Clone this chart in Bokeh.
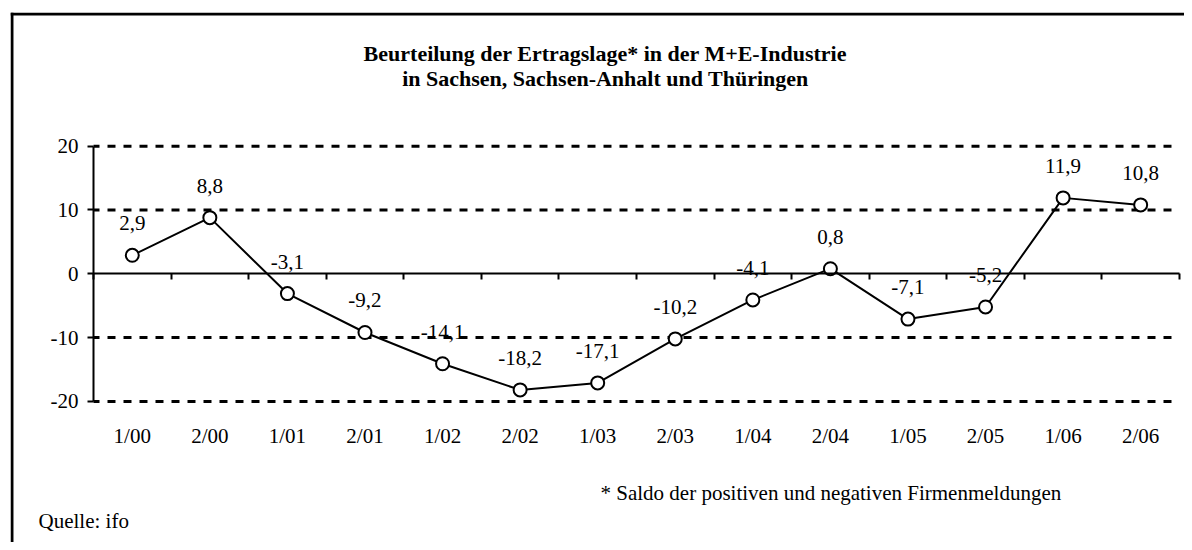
from bokeh.plotting import figure
from bokeh.models import Range1d, FixedTicker, LinearAxis, Label, Span
from bokeh.embed import file_html
from bokeh.resources import INLINE
from bokeh.core.properties import value

# ---- data ----
categories = ["1/00", "2/00", "1/01", "2/01", "1/02", "2/02", "1/03",
              "2/03", "1/04", "2/04", "1/05", "2/05", "1/06", "2/06"]
values = [2.9, 8.8, -3.1, -9.2, -14.1, -18.2, -17.1,
          -10.2, -4.1, 0.8, -7.1, -5.2, 11.9, 10.8]
y_ticks = [-20, -10, 0, 10, 20]
grid_ticks = [-20, -10, 10, 20]
title_lines = ["Beurteilung der Ertragslage* in der M+E-Industrie",
               "in Sachsen, Sachsen-Anhalt und Thüringen"]
footnote = "* Saldo der positiven und negativen Firmenmeldungen"
source_note = "Quelle: ifo"

FONT = "Liberation Serif"
FS = "21px"

n = len(categories)
xs = list(range(n))
labels = [f"{v:.1f}".replace(".", ",") for v in values]
boundaries = [i - 0.5 for i in range(n + 1)]
x_lo, x_hi = -0.5, n - 0.5
y_lo, y_hi = min(y_ticks), max(y_ticks)

p = figure(width=1184, height=542, output_backend="svg", toolbar_location=None,
           x_range=Range1d(-1.570, 13.565), y_range=Range1d(-42.116, 40.956),
           x_axis_location=None, y_axis_location=None,
           min_border_left=10, min_border_top=12,
           min_border_right=0, min_border_bottom=0)
p.outline_line_color = None
p.background_fill_color = "white"
p.border_fill_color = "white"
p.xgrid.visible = False
p.ygrid.visible = False

# chart-area border (left and top edges; right/bottom lie outside the window)
p.add_layout(Span(location=-1.551, dimension="height", line_color="black", line_width=3))
p.add_layout(Span(location=40.737, dimension="width", line_color="black", line_width=3))

# dashed horizontal grid lines across the plot area
p.segment(x0=[x_lo] * len(grid_ticks), x1=[x_hi] * len(grid_ticks),
          y0=grid_ticks, y1=grid_ticks, line_color="black", line_width=3,
          line_dash="8 8", line_dash_offset=2)

# y axis
ya = LinearAxis(fixed_location=x_lo, bounds=(y_lo, y_hi),
                ticker=FixedTicker(ticks=y_ticks))
ya.major_label_overrides = {t: str(t) for t in y_ticks}
ya.axis_line_width = 2
ya.major_tick_line_width = 2
ya.major_tick_out = 6
ya.major_tick_in = 0
ya.minor_tick_line_color = None
ya.major_label_standoff = 9
ya.major_label_text_font = FONT
ya.major_label_text_font_size = FS
ya.major_label_text_color = "black"
p.add_layout(ya, "left")

# x axis with category labels below the plot area
xa = LinearAxis(fixed_location=y_lo, ticker=FixedTicker(ticks=xs))
xa.major_label_overrides = {i: c for i, c in zip(xs, categories)}
xa.axis_line_color = None
xa.major_tick_line_color = None
xa.minor_tick_line_color = None
xa.major_label_standoff = 17
xa.major_label_text_font = FONT
xa.major_label_text_font_size = FS
xa.major_label_text_color = "black"
p.add_layout(xa, "below")

# zero-line axis with ticks at category boundaries
za = LinearAxis(fixed_location=0, bounds=(x_lo, x_hi),
                ticker=FixedTicker(ticks=boundaries))
za.axis_line_width = 2
za.major_tick_line_width = 2
za.major_tick_out = 6
za.major_tick_in = 0
za.minor_tick_line_color = None
za.major_label_text_alpha = 0
za.major_label_text_font_size = "1px"
p.add_layout(za, "below")

# series
p.line(xs, values, line_color="black", line_width=2)
p.scatter(xs, values, size=13, fill_color="white", line_color="black", line_width=2)
p.text(xs, values, text=labels, text_align="center", text_baseline="middle",
       y_offset=-32, text_font=value(FONT), text_font_size=FS, text_color="black")

# titles and notes
p.add_layout(Label(x=6.10, y=34.54, text=title_lines[0], text_align="center",
                   text_baseline="middle", text_font=FONT, text_font_size="22px",
                   text_font_style="bold", text_color="black"))
p.add_layout(Label(x=6.10, y=30.62, text=title_lines[1], text_align="center",
                   text_baseline="middle", text_font=FONT, text_font_size="22px",
                   text_font_style="bold", text_color="black"))
p.add_layout(Label(x=6.036, y=-34.32, text=footnote, text_align="left",
                   text_baseline="middle", text_font=FONT, text_font_size=FS,
                   text_color="black"))
p.add_layout(Label(x=-1.209, y=-38.79, text=source_note, text_align="left",
                   text_baseline="middle", text_font=FONT, text_font_size=FS,
                   text_color="black"))

open("out.html", "w").write(file_html(p, INLINE))
